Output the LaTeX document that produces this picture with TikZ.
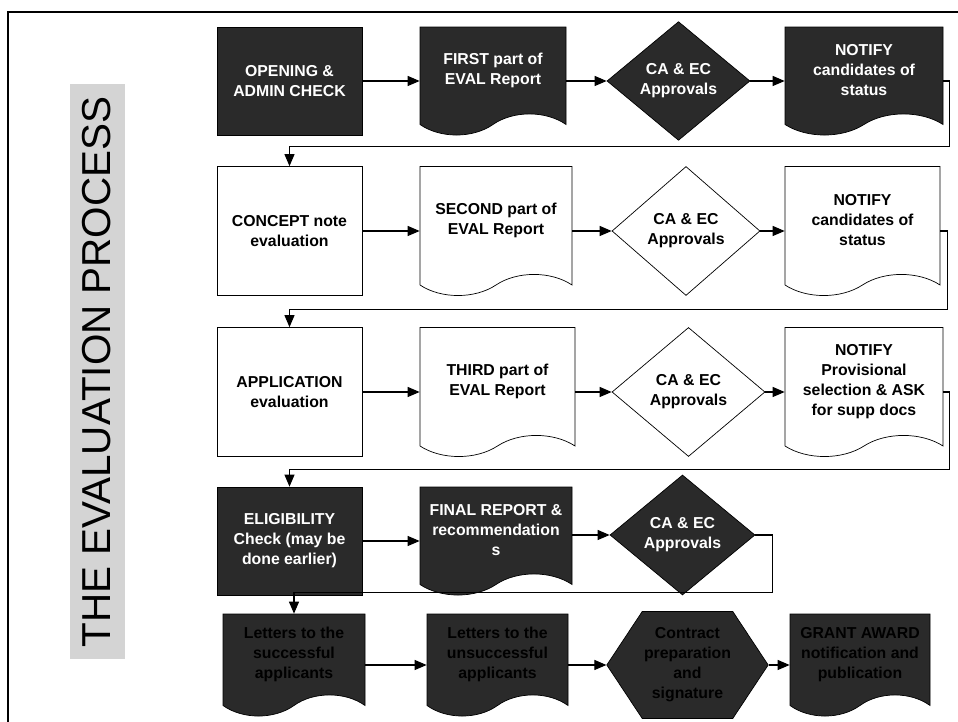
\documentclass[tikz,border=0pt]{standalone}
\usepackage{fontspec}
\setmainfont{Liberation Sans}
\usetikzlibrary{shapes.geometric,shapes.symbols,arrows.meta,calc}
\definecolor{darkhatch}{RGB}{42,42,42}
\definecolor{titlegray}{RGB}{212,212,212}

\begin{document}
\begin{tikzpicture}[
            box/.style={rectangle, draw=black, fill=white, inner sep=1pt,
                        minimum width=2.9cm, minimum height=2.58cm,
                        align=center, font=\fontsize{9}{11.4}\selectfont\bfseries},
            doc/.style={box, tape, tape bend top=none, tape bend height=12pt},
            decision/.style={box, diamond, minimum width=2.95cm},
            prep/.style={box, signal, signal to=east and west, signal pointer angle=113},
            dark/.style={fill=darkhatch, text=white},
            darktext/.style={fill=darkhatch, text=black},
            short/.style={minimum height=2.16cm},
            arrow/.style={-{Triangle[length=2.4mm,width=2mm]}, semithick}
        ]
            \useasboundingbox (0,0) rectangle (19.16,14.44);
            % frame and title
            \draw[thick] (0.16,0) -- (0.16,14.2) -- (19.16,14.2);
            \node[rotate=90, fill=titlegray, minimum width=11.5cm, minimum height=1.1cm,
                  font=\fontsize{23}{23}\selectfont] (title) at (1.94,7.0) {THE EVALUATION PROCESS};

            % row 1
            \node[box, dark, short] (open) at (5.79,12.82) {OPENING \&\\ADMIN CHECK};
            \node[doc, dark, short, minimum width=2.92cm] (first) at (9.86,13.03) {FIRST part of\\EVAL Report};
            \node[decision, dark, short, minimum width=2.86cm] (appr1) at (13.57,12.82) {CA \& EC\\Approvals};
            \node[doc, dark, short, minimum width=3.16cm] (notify1) at (17.28,13.03) {NOTIFY\\candidates of\\status};

            % row 2
            \node[box] (concept) at (5.79,9.82) {CONCEPT note\\evaluation};
            \node[doc, minimum width=3.04cm] (second) at (9.92,10.03) {SECOND part of\\EVAL Report};
            \node[decision, minimum width=2.96cm] (appr2) at (13.72,9.82) {CA \& EC\\Approvals};
            \node[doc, minimum width=3.1cm] (notify2) at (17.25,10.03) {NOTIFY\\candidates of\\status};

            % row 3
            \node[box] (appl) at (5.79,6.6) {APPLICATION\\evaluation};
            \node[doc, minimum width=3.1cm] (third) at (9.95,6.81) {THIRD part of\\EVAL Report};
            \node[decision, minimum width=3.06cm] (appr3) at (13.77,6.6) {CA \& EC\\Approvals};
            \node[doc, minimum width=3.16cm] (notify3) at (17.28,6.81) {NOTIFY\\Provisional\\selection \& ASK\\for supp docs};

            % row 4
            \node[box, dark, short] (elig) at (5.79,3.62) {ELIGIBILITY\\Check (may be\\done earlier)};
            \node[doc, dark, short, minimum width=3.04cm] (final) at (9.92,3.83) {FINAL REPORT \&\\recommendation\\s};
            \node[decision, dark, minimum width=2.9cm, minimum height=2.4cm] (appr4) at (13.65,3.74) {CA \& EC\\Approvals};

            % row 5
            \node[doc, darktext, minimum width=2.84cm, minimum height=2.04cm] (lettsucc) at (5.88,1.35) {Letters to the\\successful\\applicants};
            \node[doc, darktext, minimum width=2.82cm, minimum height=2.04cm] (lettunsucc) at (9.95,1.35) {Letters to the\\unsuccessful\\applicants};
            \node[prep, darktext, minimum width=2.98cm, minimum height=2.14cm] (contract) at (13.75,1.14) {Contract\\preparation\\and\\signature};
            \node[doc, darktext, minimum width=2.8cm, minimum height=2.04cm] (award) at (17.2,1.35) {GRANT AWARD\\notification and\\publication};

            % connectors
            \draw[arrow] (open.east) -- (open.east -| first.west);
            \draw[arrow] (first.east |- appr1.west) -- (appr1.west);
            \draw[arrow] (appr1.east) -- (appr1.east -| notify1.west);
            \draw[arrow] (notify1.east |- appr1.east) -- ++(0.12,0) |- ($(concept.north)+(0,0.4)$) -- (concept.north);
            \draw[arrow] (concept.east) -- (concept.east -| second.west);
            \draw[arrow] (second.east |- appr2.west) -- (appr2.west);
            \draw[arrow] (appr2.east) -- (appr2.east -| notify2.west);
            \draw[arrow] (notify2.east |- appr2.east) -- ++(0.14,0) |- ($(appl.north)+(0,0.35)$) -- (appl.north);
            \draw[arrow] (appl.east) -- (appl.east -| third.west);
            \draw[arrow] (third.east |- appr3.west) -- (appr3.west);
            \draw[arrow] (appr3.east) -- (appr3.east -| notify3.west);
            \draw[arrow] (notify3.east |- appr3.east) -- ++(0.12,0) |- ($(elig.north)+(0,0.34)$) -- (elig.north);
            \draw[arrow] (elig.east) -- (elig.east -| final.west);
            \draw[arrow] (final.east |- appr4.west) -- (appr4.west);
            \draw[arrow] (appr4.east) -- ++(0.34,0) |- ($(lettsucc.north)+(0,0.42)$) -- (lettsucc.north);
            \draw[arrow] (lettsucc.east |- contract.west) -- (lettunsucc.west |- contract.west);
            \draw[arrow] (lettunsucc.east |- contract.west) -- (contract.west);
            \draw[arrow] (contract.east) -- (contract.east -| award.west);
        \end{tikzpicture}
\end{document}
